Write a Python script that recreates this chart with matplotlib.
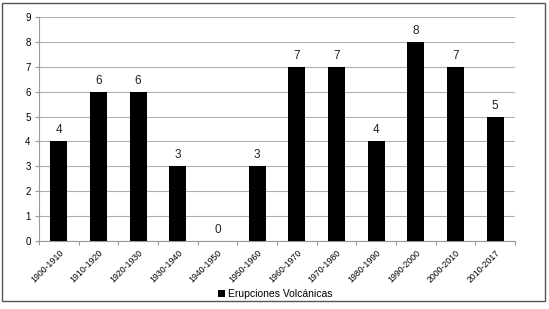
import matplotlib
matplotlib.use("Agg")
import matplotlib.pyplot as plt
from matplotlib.patches import Rectangle
import numpy as np

categories = ["1900-1910", "1910-1920", "1920-1930", "1930-1940", "1940-1950", "1950-1960",
              "1960-1970", "1970-1980", "1980-1990", "1990-2000", "2000-2010", "2010-2017"]
values = [4, 6, 6, 3, 0, 3, 7, 7, 4, 8, 7, 5]
series_name = "Erupciones Volcánicas"

plt.rcParams['font.family'] = ['Liberation Sans', 'DejaVu Sans']

fig = plt.figure(figsize=(5.49, 3.09), dpi=100)
ax = fig.add_axes([39/549, 1-241/309, (515-39)/549, (241-17)/309])

x = np.arange(len(categories))
bars = ax.bar(x, values, width=0.43, color='black', label=series_name, zorder=3)
for xi, v in zip(x, values):
    ax.text(xi, v + 0.2, str(v), ha='center', va='bottom', fontsize=8.5, color='#222222')

ax.set_xlim(-0.5, len(categories) - 0.5)
ax.set_ylim(0, 9)
ax.set_yticks(range(0, 10))
ax.yaxis.grid(True, color='#b0b0b0', linewidth=0.8, zorder=0)
ax.set_xticks(np.arange(-0.5, len(categories), 1), minor=False)
ax.set_xticklabels([])
ax.set_xticks(x, minor=True)
ax.set_xticklabels(categories, minor=True, rotation=45, ha='right', rotation_mode='anchor', fontsize=6.3)
ax.tick_params(axis='x', which='minor', length=0, pad=5)
ax.tick_params(axis='x', which='major', length=3, color='#999999')
ax.tick_params(axis='y', length=3, color='#999999', labelsize=7, pad=3)
for s in ['top', 'right']:
    ax.spines[s].set_visible(False)
ax.spines['left'].set_color('#999999')
ax.spines['bottom'].set_color('#999999')

fig.legend(handles=[bars], labels=[series_name], loc='center', bbox_to_anchor=(275/549, 1-294/309),
           frameon=False, fontsize=7.5, handlelength=0.7, handleheight=0.7, handletextpad=0.3)

fig.patches.append(Rectangle((2/549, 1-301/309), 543/549, 298/309, transform=fig.transFigure,
                             fill=False, edgecolor='#555555', linewidth=1))

fig.savefig("out.png", dpi=100)
